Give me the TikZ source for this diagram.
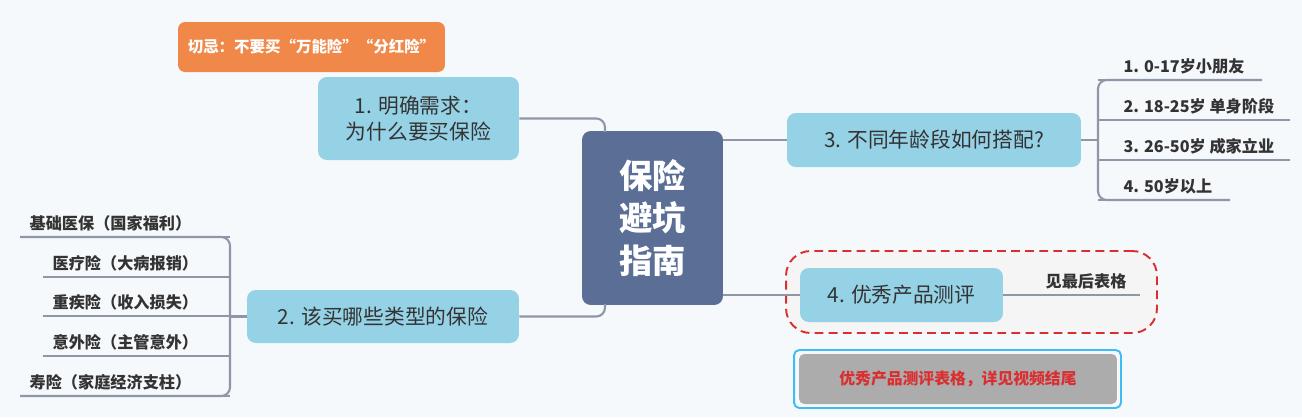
\documentclass[tikz,border=0pt]{standalone}
\usepackage{fontspec}
\setmainfont{Noto Sans CJK SC}
\usetikzlibrary{positioning}
\definecolor{bgc}{HTML}{F6F9FC}
\definecolor{hubc}{HTML}{5A6E96}
\definecolor{topicc}{HTML}{96D2E6}
\definecolor{linec}{HTML}{8E96A8}
\definecolor{notec}{HTML}{F0884A}
\definecolor{txtc}{HTML}{333333}
\definecolor{warnred}{HTML}{DA2F30}
\definecolor{framec}{HTML}{3DBDF2}
\tikzset{
  topic/.style={fill=topicc, rounded corners=5pt, text=txtc, font=\fontsize{11.8pt}{14.5pt}\selectfont, align=center},
  leaf/.style={text=txtc, font=\bfseries\fontsize{9.2pt}{11pt}\selectfont, anchor=south west, inner sep=3pt},
  conn/.style={linec, line width=1.2pt, rounded corners=5pt}
}
\begin{document}
\begin{tikzpicture}[x=0.02cm, y=-0.02cm]
        % Background
        \fill[bgc] (0,0) rectangle (1302,417);
        \useasboundingbox (0,0) rectangle (1302,417);

        % Central node
        \node[fill=hubc, rounded corners=5pt, minimum width=2.82cm, minimum height=3.48cm, text=white, font=\bfseries\fontsize{19pt}{24pt}\selectfont, align=center] (hub) at (652.5,218) {保险\\避坑\\指南};

        % Main topics
        \node[topic, minimum width=4.02cm, minimum height=1.66cm] (need) at (418.5,118.5) {1. 明确需求：\\为什么要买保险};
        \node[topic, minimum width=5.44cm, minimum height=1.06cm] (kind) at (383,316.5) {2. 该买哪些类型的保险};
        \node[topic, minimum width=5.88cm, minimum height=1.08cm] (age) at (934,140) {3. 不同年龄段如何搭配?};
        \node[draw=warnred, dash pattern=on 5pt off 3pt, line width=1.1pt, fill=gray!8, rounded corners=14pt, minimum width=7.42cm, minimum height=1.64cm] (frame) at (971.5,292) {};
        \node[topic, minimum width=4.06cm, minimum height=1.08cm] (test) at (901.5,295) {4. 优秀产品测评};

        % Notes
        \node[fill=notec, rounded corners=4pt, minimum width=5.34cm, minimum height=1cm, text=white, font=\bfseries\fontsize{8.8pt}{10pt}\selectfont] (warn) at (311.5,47) {切忌：不要买“万能险”“分红险”};
        \node[draw=framec, line width=1.1pt, rounded corners=3pt, minimum width=6.54cm, minimum height=1.16cm] (tabframe) at (957.5,379) {};
        \node[fill=gray!65, rounded corners=3pt, minimum width=6.36cm, minimum height=1cm, text=warnred, font=\bfseries\fontsize{9pt}{10pt}\selectfont] (tab) at (958,379) {优秀产品测评表格，详见视频结尾};

        % Connectors from hub
        \draw[conn] (need.east) -- (605,118.5) -- (605,132);
        \draw[conn] (kind.east) -- (605,316.5) -- (605,304);
        \draw[conn] (hub.east |- age) -- (age.west);
        \draw[conn] (hub.east |- test) -- (test.west);

        % Left leaves
        \foreach \t/\y/\w [count=\i] in {基础医保（国家福利）/237/20, 医疗险（大病报销）/277/43, 重疾险（收入损失）/316/43, 意外险（主管意外）/356/43, 寿险（家庭经济支柱）/396/20} {
          \node[leaf] (kl\i) at (\w+4,\y) {\t};
          \draw[conn] (\w,\y) -- (230,\y);
        }
        \draw[conn] (20,237) -- (230,237) -- (230,396) -- (20,396);
        \draw[conn] (kind.west) -- (230,316.5);

        % Right leaves
        \foreach \t/\y/\e [count=\i] in {1. 0-17岁小朋友/80/1262, 2. 18-25岁 单身阶段/120/1290, 3. 26-50岁 成家立业/160/1290, 4. 50岁以上/200/1230} {
          \node[leaf] (al\i) at (1118,\y) {\t};
          \draw[conn] (1098,\y) -- (\e,\y);
        }
        \draw[conn] (1262,80) -- (1098,80) -- (1098,200) -- (1230,200);
        \draw[conn] (age.east) -- (1098,140);

        % Test leaf
        \node[leaf] (last) at (1040,295) {见最后表格};
        \draw[conn] (test.east) -- (1140,295);
\end{tikzpicture}
\end{document}
